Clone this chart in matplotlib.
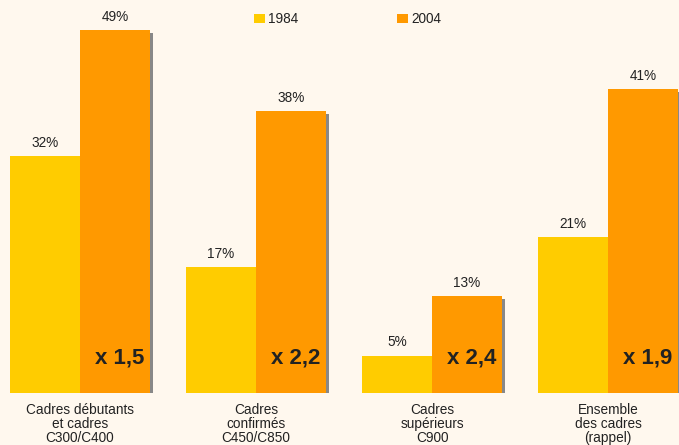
import numpy as np
import matplotlib
matplotlib.use('Agg')
import matplotlib.pyplot as plt

plt.rcParams['font.family'] = ['Liberation Sans', 'DejaVu Sans']

# Données
categories = ['Cadres débutants\net cadres\nC300/C400',
              'Cadres\nconfirmés\nC450/C850',
              'Cadres\nsupérieurs\nC900',
              'Ensemble\ndes cadres\n(rappel)']
val_1984 = [32, 17, 5, 21]
val_2004 = [49, 38, 13, 41]
multiplicateurs = ['x 1,5', 'x 2,2', 'x 2,4', 'x 1,9']
annees = ['1984', '2004']

fond = '#FFF8EE'
jaune = '#FFCC00'
orange = '#FF9900'
ombre = '#888888'
texte = '#222222'

W, H = 679, 445
fig = plt.figure(figsize=(W / 100, H / 100), dpi=100, facecolor=fond)
base_px = 392.5
ax = fig.add_axes([0, (H - base_px) / H, 1, base_px / H])
ax.set_facecolor(fond)

pas = 176.0           # pixels par groupe
larg = 70 / pas       # largeur d'une barre
x = np.arange(len(categories))
ax.set_xlim(-80 / pas, (W - 80) / pas)
ax.set_ylim(0, base_px / 7.4)

dx = 3 / pas
dy = 3 / 7.4
# ombre des barres 2004
ax.bar(x + larg / 2 + dx, np.array(val_2004) - dy, width=larg, color=ombre,
       align='center', zorder=1)
b1 = ax.bar(x - larg / 2, val_1984, width=larg, color=jaune, zorder=2, label=annees[0])
b2 = ax.bar(x + larg / 2, val_2004, width=larg, color=orange, zorder=2, label=annees[1])

for xi, v in zip(x - larg / 2, val_1984):
    ax.annotate(f'{v}%', xy=(xi, v), xytext=(0, 6.5), textcoords='offset points',
                ha='center', va='baseline', fontsize=9.8, color=texte)
for xi, v in zip(x + larg / 2, val_2004):
    ax.annotate(f'{v}%', xy=(xi, v), xytext=(0, 6.5), textcoords='offset points',
                ha='center', va='baseline', fontsize=9.8, color=texte)

for xi, m in zip(x + larg, multiplicateurs):
    ax.annotate(m, xy=(xi, 0), xytext=(-4.3, 20.6), textcoords='offset points',
                ha='right', va='baseline', fontsize=16, fontweight='bold',
                color=texte, annotation_clip=False)

for xi, c in zip(x, categories):
    ax.annotate(c, xy=(xi, 0), xytext=(0, -7.8), textcoords='offset points',
                ha='center', va='top', fontsize=9.8, color=texte,
                linespacing=0.98, annotation_clip=False)

ax.legend(handles=[b1, b2], ncol=2, frameon=False, fontsize=9.8,
          loc='upper left', bbox_to_anchor=(254 / W, 1 - 12 / H),
          bbox_transform=fig.transFigure, borderpad=0, borderaxespad=0,
          handlelength=0.8, handleheight=0.6, handletextpad=0.22,
          columnspacing=7.3, labelcolor=texte)

ax.set_xticks([])
ax.set_yticks([])
for s in ax.spines.values():
    s.set_visible(False)

fig.savefig('out.png', dpi=100, facecolor=fond)
